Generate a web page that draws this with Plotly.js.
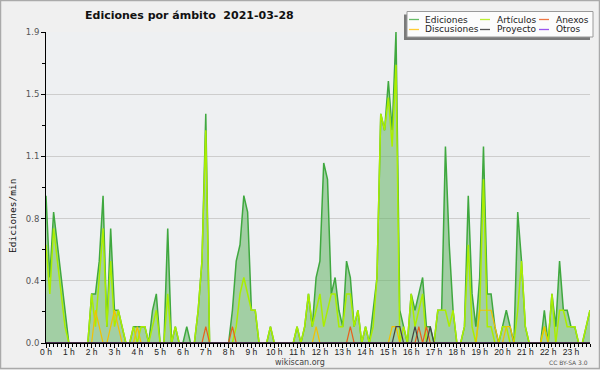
<!DOCTYPE html>
<html><head><meta charset="utf-8">
<script src="https://cdn.plot.ly/plotly-3.0.1.min.js"></script>
<style>html,body{margin:0;padding:0;background:#f0f0f0}#chart{width:600px;height:370px}</style>
</head><body><div id="chart"></div>
<script>
// 10-minute samples, 00:00 .. 23:50 (hours)
const hours = Array.from({length: 144}, (_, i) => i / 6);

const ediciones = [
0.9,0.4,0.8,0.6,0.4,0.2,0,0,0,0,0,0,
0.3,0.3,0.5,0.9,0.1,0.7,0.2,0.2,0.1,0,0,0.1,
0.1,0.1,0.1,0,0.2,0.3,0,0,0.7,0,0.1,0,
0,0.1,0,0,0.2,0.5,1.4,0,0,0,0,0,
0,0.2,0.5,0.6,0.9,0.8,0.2,0.2,0,0,0,0.1,
0,0,0,0,0,0,0.1,0,0.1,0.3,0.1,0.4,
0.5,1.1,1.0,0.3,0.4,0.2,0.1,0.5,0.4,0.1,0.2,0,
0.1,0,0.2,0.4,1.4,1.3,1.6,1.3,1.9,0.2,0.1,0,
0.3,0.2,0.3,0.4,0.1,0.1,0,0.2,0.2,1.2,0.6,0.2,
0,0,0.1,0.9,0.3,0.1,0.4,1.2,0.3,0.3,0.1,0,
0.1,0.2,0.1,0,0.8,0.5,0.1,0,0,0,0,0.2,
0,0.3,0.1,0.5,0.2,0.2,0.1,0.1,0,0,0.1,0.2];

const articulos = [
0.6,0.3,0.7,0.5,0.3,0.1,0,0,0,0,0,0,
0.3,0.1,0.4,0.7,0.1,0.5,0.1,0.2,0.1,0,0,0.1,
0,0.1,0.1,0,0.1,0.2,0,0,0.3,0,0.1,0,
0,0,0,0,0.2,0.5,1.3,0,0,0,0,0,
0,0,0.1,0.3,0.4,0.3,0.2,0.2,0,0,0,0.1,
0,0,0,0,0,0,0.1,0,0.1,0.3,0.1,0.2,
0.3,0.1,0.2,0.3,0.3,0.1,0.1,0.3,0.3,0.1,0.2,0,
0.1,0,0.1,0.4,1.4,1.3,1.5,1.2,1.7,0,0.1,0,
0.3,0.1,0.2,0.3,0,0,0,0.2,0.2,0.2,0.1,0.2,
0,0,0.1,0.6,0.1,0,0.2,1.0,0.1,0.1,0,0,
0.1,0.1,0,0,0.2,0.5,0.1,0,0,0,0,0.1,
0,0.3,0,0.2,0.2,0.1,0.1,0.1,0,0,0.1,0.2];

const discusiones = [
0,0,0,0,0,0,0,0,0,0,0,0,
0,0.2,0.1,0,0,0.1,0.2,0.1,0,0,0,0,
0.1,0,0,0,0,0,0,0,0,0,0,0,
0,0,0,0,0,0,0,0,0,0,0,0,
0,0,0,0,0,0,0,0,0,0,0,0,
0,0,0,0,0,0,0,0,0,0,0,0.1,
0,0,0,0,0,0,0,0,0,0,0,0,
0,0,0,0,0,0,0,0.1,0.1,0,0,0,
0,0,0,0,0,0,0,0,0,0,0,0,
0,0,0,0,0,0,0.2,0.2,0.2,0.2,0.1,0,
0,0.1,0.1,0,0,0,0,0,0,0,0,0.1,
0,0,0,0,0,0,0,0,0,0,0,0];

const anexos = [
0,0,0,0,0,0,0,0,0,0,0,0,
0,0,0,0,0,0,0,0,0,0,0,0,
0,0,0,0,0,0,0,0,0,0,0,0,
0,0,0,0,0,0,0.1,0,0,0,0,0,
0,0.1,0,0,0,0,0,0,0,0,0,0,
0,0,0,0,0,0,0,0,0,0,0,0,
0,0,0,0,0,0,0,0,0.1,0,0,0,
0,0,0,0,0,0,0,0,0,0,0,0,
0,0,0.1,0,0.1,0,0,0,0,0,0,0,
0,0,0,0,0,0,0,0,0,0,0,0,
0,0,0,0,0,0,0,0,0,0,0,0,
0,0,0,0,0,0,0,0,0,0,0,0];

const proyecto = [
0,0,0,0,0,0,0,0,0,0,0,0,
0,0,0,0,0,0,0,0,0,0,0,0,
0,0,0,0,0,0,0,0,0,0,0,0,
0,0,0,0,0,0,0,0,0,0,0,0,
0,0,0,0,0,0,0,0,0,0,0,0,
0,0,0,0,0,0,0,0,0,0,0,0,
0,0,0,0,0,0,0,0,0,0,0,0,
0,0,0,0,0,0,0,0,0.1,0.1,0,0,
0,0.1,0,0,0,0.1,0,0,0,0,0,0,
0,0,0,0,0,0,0,0,0,0,0,0,
0,0,0,0,0,0,0,0,0,0,0,0,
0,0,0,0,0,0,0,0,0,0,0,0];

const otros = [
0,0,0,0,0,0,0,0,0,0,0,0,
0,0,0,0,0,0,0,0,0,0,0,0,
0,0,0,0,0,0,0,0,0,0,0,0,
0,0,0,0,0,0,0,0,0,0,0,0,
0,0,0,0,0,0,0,0,0,0,0,0,
0,0,0,0,0,0,0,0,0,0,0,0,
0,0,0,0,0,0,0,0,0,0,0,0,
0,0,0,0,0,0,0,0,0,0,0,0,
0,0,0,0,0,0,0,0,0,0,0,0,
0,0,0,0,0,0,0,0,0,0,0,0,
0,0,0,0,0,0,0,0,0,0,0,0,
0,0,0,0,0,0,0,0,0,0,0,0];

const xTickVals = [0,1,2,3,4,5,6,7,8,9,10,11,12,13,14,15,16,17,18,19,20,21,22,23];
const xTickText = ["0 h","1 h","2 h","3 h","4 h","5 h","6 h","7 h","8 h","9 h","10 h","11 h","12 h","13 h","14 h","15 h","16 h","17 h","18 h","19 h","20 h","21 h","22 h","23 h"];
const yTickVals = [0, 0.38, 0.76, 1.14, 1.52, 1.9];
const yTickText = ["0.0","0.4","0.8","1.1","1.5","1.9"];
const yMinorVals = [0.19, 0.57, 0.95, 1.33, 1.71];
const xMinorVals = Array.from({length: 144}, (_, i) => i / 6);

const legendNames = ["Ediciones","Discusiones","Artículos","Proyecto","Anexos","Otros"];
const legendColors = ["#66bb66","#ffcc33","#bbee33","#555555","#ee7744","#9955ee"];

// geometry helpers (plot area: x 46..590, y 32..343)
const L = 46, R = 590, T = 32, B = 343;
const px = v => (v - L) / (R - L);
const py = v => (B - v) / (B - T);

const traces = [
  {x: hours, y: ediciones, name: "Ediciones", type: "scatter", mode: "lines",
   fill: "tozeroy", fillcolor: "rgba(100,180,100,0.55)", line: {color: "#3fa83f", width: 1.5}},
  {x: hours, y: articulos, name: "Artículos", type: "scatter", mode: "lines",
   line: {color: "#aaee00", width: 1.5}},
  {x: hours, y: discusiones, name: "Discusiones", type: "scatter", mode: "lines",
   line: {color: "#f2c200", width: 1.2}},
  {x: hours, y: anexos, name: "Anexos", type: "scatter", mode: "lines",
   line: {color: "#e8601c", width: 1.2}},
  {x: hours, y: proyecto, name: "Proyecto", type: "scatter", mode: "lines",
   line: {color: "#444444", width: 1.2}},
  {x: hours, y: otros, name: "Otros", type: "scatter", mode: "lines",
   line: {color: "#8844ee", width: 1.2}}
];

const shapes = [
  // outer frame
  {type:"rect", xref:"paper", yref:"paper", x0:px(0.5), x1:px(599.5), y0:py(368.5), y1:py(0.5),
   line:{color:"#aaaaaa", width:1.5}, fillcolor:"rgba(0,0,0,0)", layer:"below"},
  // baseline over the zero-level lines
  {type:"line", xref:"paper", yref:"paper", x0:0, x1:1, y0:py(343.2), y1:py(343.2),
   line:{color:"#000", width:1.6}, layer:"above"},
  // legend shadow + box
  {type:"rect", xref:"paper", yref:"paper", x0:px(404), x1:px(590), y0:py(40), y1:py(14.5),
   line:{width:0}, fillcolor:"#7a7a7a"},
  {type:"rect", xref:"paper", yref:"paper", x0:px(407), x1:px(593), y0:py(37), y1:py(11.5),
   line:{color:"#9a9a9a", width:1}, fillcolor:"#fcfcfc"}
];
const annotations = [];
const colX = [[409,424],[480,496],[539,555]];
const rowY = [19.5, 29.5];
const order = [[0,0],[0,1],[1,0],[1,1],[2,0],[2,1]]; // [col,row] for legendNames order
legendNames.forEach((n, k) => {
  const c = order[k][0], r = order[k][1];
  shapes.push({type:"line", xref:"paper", yref:"paper", x0:px(colX[c][0]), x1:px(colX[c][0]+10),
    y0:py(rowY[r]), y1:py(rowY[r]), line:{color:legendColors[k], width:1.3}});
  annotations.push({xref:"paper", yref:"paper", x:px(colX[c][1]-1), y:py(rowY[r]), xanchor:"left", yanchor:"middle",
    text:n, showarrow:false, font:{family:"DejaVu Sans", size:9, color:"#222"}});
});
annotations.push({xref:"paper", yref:"paper", x:px(12), y:py(216), textangle:-90, xanchor:"center", yanchor:"middle",
  text:"Ediciones/min", showarrow:false, font:{family:"DejaVu Sans Mono", size:9.5, color:"#111"}});
annotations.push({xref:"paper", yref:"paper", x:px(300), y:py(362.5), xanchor:"center", yanchor:"middle",
  text:"wikiscan.org", showarrow:false, font:{family:"DejaVu Sans", size:8, color:"#444"}});
annotations.push({xref:"paper", yref:"paper", x:px(590), y:py(362.5), xanchor:"right", yanchor:"middle",
  text:"CC BY-SA 3.0", showarrow:false, font:{family:"DejaVu Sans", size:6, color:"#555"}});

const layout = {
  width: 600, height: 370,
  margin: {l: L, r: 600 - R, t: T, b: 370 - B, pad: 0},
  paper_bgcolor: "#f0f0f0", plot_bgcolor: "#eef0f2",
  showlegend: false,
  title: {text: "<b>Ediciones por ámbito\u00a0 2021-03-28</b>", xref:"container", yref:"container",
    x: 85/600, xanchor:"left", y: 1 - 15/370, yanchor:"middle",
    font: {family:"DejaVu Sans", size:11, color:"#111"}},
  xaxis: {range: [0, 143/6], tickmode:"array", tickvals: xTickVals, ticktext: xTickText,
    showgrid:false, zeroline:false, showline:true, linecolor:"#000", linewidth:1,
    ticks:"outside", ticklen:4, tickcolor:"#000", tickwidth:1, ticklabelstandoff:-3,
    tickfont:{family:"Liberation Sans", size:8.5, color:"#222"},
    minor:{tickmode:"array", tickvals:xMinorVals, ticks:"outside", ticklen:2.5, tickcolor:"#000", showgrid:false},
    fixedrange:true},
  yaxis: {range: [0, 1.9], tickmode:"array", tickvals: yTickVals, ticktext: yTickText,
    showgrid:true, gridcolor:"#cdcdcd", gridwidth:1, zeroline:false,
    showline:true, linecolor:"#000", linewidth:1,
    ticks:"outside", ticklen:4, tickcolor:"#000", tickwidth:1,
    tickfont:{family:"DejaVu Sans", size:8.5, color:"#555"},
    minor:{tickmode:"array", tickvals:yMinorVals, ticks:"outside", ticklen:3, tickcolor:"#000", showgrid:false},
    fixedrange:true},
  shapes: shapes,
  annotations: annotations
};

Plotly.newPlot("chart", traces, layout, {displayModeBar:false, staticPlot:true});
</script></body></html>
